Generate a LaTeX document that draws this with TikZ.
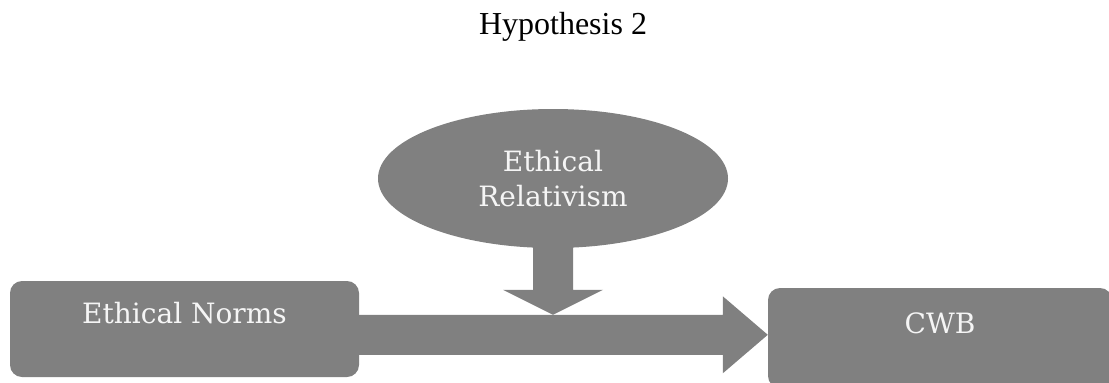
\documentclass[tikz,border=0pt]{standalone}
\usepackage{fontspec}
\setmainfont{Liberation Serif}
\newfontfamily\boxfont{DejaVu Serif}
\usepackage{tikz}
\usetikzlibrary{shapes.geometric,calc}
\definecolor{shapegray}{HTML}{808080}
\definecolor{labelwhite}{HTML}{F5F5F5}
\tikzset{
  grayshape/.style={fill=shapegray, draw=none},
  boxlabel/.style={grayshape, text=labelwhite, font=\boxfont\fontsize{28}{35}\selectfont, inner sep=0pt},
  varbox/.style={boxlabel, rectangle, rounded corners=12pt},
}

\begin{document}
\begin{tikzpicture}[x=1pt,y=-1pt]
              \clip (0,0) rectangle (1109,383);
              \node[anchor=base, font=\fontsize{32}{38}\selectfont] (hyp) at (563,34) {Hypothesis 2};
              \node[varbox, minimum width=349pt, text height=42pt, text depth=54pt] (norms) at (184.5,329) {Ethical Norms};
              \node[varbox, minimum width=344pt, text height=45pt, text depth=55pt] (cwb) at (940,338) {CWB};
              \node[boxlabel, ellipse, minimum width=350pt, minimum height=139pt, align=center] (relat) at (553,178.5) {Ethical\\Relativism};
              % arrow tips
              \coordinate (tip) at ($(cwb.north west)+(0,47)$);
              \coordinate (dtip) at ($(relat.south |- tip)+(0,-20)$);
              \fill[shapegray] ($(norms.east |- tip)+(-5,-20)$) -- ($(tip)+(-45,-20)$) -- ($(tip)+(-45,-38.5)$) -- (tip)
                  -- ($(tip)+(-45,38.5)$) -- ($(tip)+(-45,20)$) -- ($(norms.east |- tip)+(-5,20)$) -- cycle;
              \fill[shapegray] ($(relat.south)+(-20,-5)$) -- ($(dtip)+(-20,-25)$) -- ($(dtip)+(-50,-25)$) -- (dtip)
                  -- ($(dtip)+(50,-25)$) -- ($(dtip)+(20,-25)$) -- ($(relat.south)+(20,-5)$) -- cycle;
          \end{tikzpicture}
\end{document}
